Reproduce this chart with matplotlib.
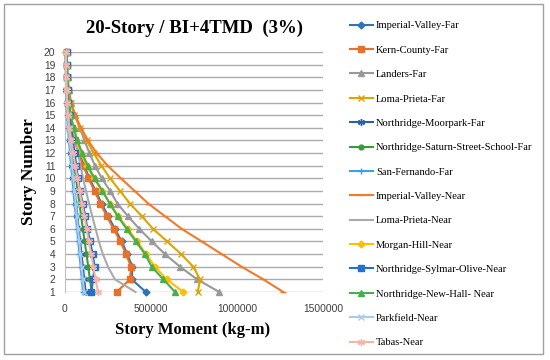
import numpy as np
import matplotlib
matplotlib.use("Agg")
import matplotlib.pyplot as plt
from matplotlib.patches import Rectangle

# --- Data (story moment, kg-m, stories 1..20) ---
stories = list(range(1, 21))

imperial_valley_far = [470e3, 388e3, 392e3, 362e3, 330e3, 290e3, 251e3, 213e3, 178e3, 142e3,
                       112e3, 82e3, 61e3, 44e3, 31e3, 21e3, 15e3, 12e3, 10e3, 8e3]
kern_county_far = [300e3, 378e3, 384e3, 355e3, 322e3, 282e3, 243e3, 206e3, 172e3, 136e3,
                   107e3, 77e3, 58e3, 42e3, 30e3, 22e3, 16e3, 13e3, 11e3, 9e3]
landers_far = [897e3, 768e3, 669e3, 581e3, 505e3, 432e3, 366e3, 305e3, 262e3, 214e3,
               174e3, 142e3, 113e3, 86e3, 58e3, 35e3, 22e3, 16e3, 12e3, 10e3]
loma_prieta_far = [772e3, 785e3, 746e3, 675e3, 594e3, 512e3, 446e3, 378e3, 320e3, 262e3,
                   212e3, 166e3, 126e3, 88e3, 55e3, 32e3, 20e3, 15e3, 12e3, 10e3]
moorpark_far = [120e3, 112e3, 104e3, 96e3, 88e3, 80e3, 72e3, 64e3, 56e3, 48e3,
                40e3, 33e3, 27e3, 21e3, 15e3, 10e3, 8e3, 6e3, 5e3, 4e3]
saturn_far = [155e3, 145e3, 135e3, 125e3, 114e3, 104e3, 94e3, 84e3, 74e3, 64e3,
              54e3, 45e3, 37e3, 29e3, 22e3, 15e3, 12e3, 10e3, 9e3, 8e3]
san_fernando_far = [105e3, 98e3, 91e3, 84e3, 77e3, 70e3, 63e3, 56e3, 49e3, 42e3,
                    35e3, 29e3, 23e3, 17e3, 12e3, 8e3, 6e3, 5e3, 4e3, 3e3]
imperial_valley_near = [1269e3, 1153e3, 1027e3, 911e3, 795e3, 678e3, 581e3, 484e3, 405e3, 325e3,
                        248e3, 184e3, 134e3, 93e3, 60e3, 34e3, 20e3, 15e3, 12e3, 10e3]
loma_prieta_near = [410e3, 290e3, 250e3, 220e3, 197e3, 178e3, 158e3, 140e3, 122e3, 105e3,
                    90e3, 75e3, 60e3, 47e3, 35e3, 24e3, 16e3, 12e3, 10e3, 8e3]
morgan_hill_near = [688e3, 591e3, 523e3, 472e3, 419e3, 366e3, 310e3, 262e3, 216e3, 168e3,
                    126e3, 92e3, 64e3, 44e3, 28e3, 18e3, 13e3, 11e3, 9e3, 8e3]
sylmar_near = [153e3, 163e3, 172e3, 161e3, 146e3, 130e3, 118e3, 104e3, 86e3, 76e3,
               66e3, 56e3, 46e3, 37e3, 28e3, 20e3, 15e3, 12e3, 10e3, 9e3]
new_hall_near = [640e3, 572e3, 504e3, 465e3, 412e3, 358e3, 306e3, 260e3, 218e3, 172e3,
                 132e3, 100e3, 72e3, 50e3, 33e3, 22e3, 16e3, 13e3, 11e3, 9e3]
parkfield_near = [112e3, 104e3, 97e3, 90e3, 83e3, 76e3, 69e3, 62e3, 55e3, 48e3,
                  41e3, 34e3, 28e3, 22e3, 16e3, 11e3, 8e3, 6e3, 5e3, 4e3]
tabas_near = [192e3, 178e3, 165e3, 152e3, 138e3, 125e3, 112e3, 98e3, 85e3, 72e3,
              60e3, 47e3, 36e3, 26e3, 18e3, 12e3, 9e3, 7e3, 6e3, 5e3]

x_ticks = [0, 500000, 1000000, 1500000]

asterisk = (6, 2, 0)
series = [
    ("Imperial-Valley-Far", imperial_valley_far, "#2F75B5", "D", 3.5),
    ("Kern-County-Far", kern_county_far, "#E8702A", "s", 5),
    ("Landers-Far", landers_far, "#999999", "^", 5),
    ("Loma-Prieta-Far", loma_prieta_far, "#E0A400", "x", 5),
    ("Northridge-Moorpark-Far", moorpark_far, "#2B5FA8", asterisk, 5),
    ("Northridge-Saturn-Street-School-Far", saturn_far, "#3C9A3C", "o", 3.5),
    ("San-Fernando-Far", san_fernando_far, "#3FA0E0", "+", 5),
    ("Imperial-Valley-Near", imperial_valley_near, "#F27A2A", "_", 5),
    ("Loma-Prieta-Near", loma_prieta_near, "#AAAAAA", "None", 0),
    ("Morgan-Hill-Near", morgan_hill_near, "#FFBE00", "D", 3.5),
    ("Northridge-Sylmar-Olive-Near", sylmar_near, "#2470CC", "s", 5),
    ("Northridge-New-Hall- Near", new_hall_near, "#4AAE4A", "^", 5),
    ("Parkfield-Near", parkfield_near, "#A8CBEA", "x", 5),
    ("Tabas-Near", tabas_near, "#F6B4A6", asterisk, 5),
]

serif = "Liberation Serif"
sans = "Liberation Sans"

fig = plt.figure(figsize=(5.5, 3.6), dpi=100)
ax = fig.add_axes([65 / 550, 1 - 292 / 360, (323 - 65) / 550, (292 - 52) / 360])

for name, vals, col, mk, ms in series:
    ax.plot(vals, stories, color=col, lw=1.5, marker=mk, markersize=ms,
            markeredgewidth=1.0, label=name, clip_on=False, zorder=3)

ax.set_xlim(0, 1500000)
ax.set_ylim(1, 20)
ax.set_xticks(x_ticks)
ax.set_xticklabels([str(v) for v in x_ticks])
ax.set_yticks(stories)
ax.tick_params(length=0, labelsize=7.4, colors="#3F3F3F", pad=7)
ax.tick_params(axis="x", pad=9)
for lab in ax.get_xticklabels() + ax.get_yticklabels():
    lab.set_family(sans)
ax.grid(axis="y", color="#ABABAB", lw=1.0, zorder=0)
for s in ["top", "right", "bottom"]:
    ax.spines[s].set_visible(False)
ax.spines["left"].set_color("#BFBFBF")
ax.spines["left"].set_linewidth(0.8)

fig.text(195 / 550, 1 - 33 / 360, "20-Story / BI+4TMD  (3%)", family=serif,
         fontweight="bold", fontsize=13.5, ha="center", va="baseline")
fig.text(193 / 550, 1 - 334 / 360, "Story Moment (kg-m)", family=serif,
         fontweight="bold", fontsize=12, ha="center", va="baseline")
fig.text(29 / 550, 1 - 172 / 360, "Story Number", family=serif,
         fontweight="bold", fontsize=12.5, ha="center", va="center", rotation=90)

handles, labels = ax.get_legend_handles_labels()
fig.legend(handles, labels, loc="upper left", bbox_to_anchor=(350 / 550, 1 - 21 / 360),
           frameon=False, prop={"family": serif, "size": 7.6}, handlelength=2.15,
           handletextpad=0.3, labelspacing=1.42, borderaxespad=0, borderpad=0)

fig.patches.append(Rectangle((4 / 550, 6 / 360), 539 / 550, 350 / 360, transform=fig.transFigure,
                             fill=False, edgecolor="#A0A0A0", lw=1.0))

fig.savefig("out.png", dpi=100)
